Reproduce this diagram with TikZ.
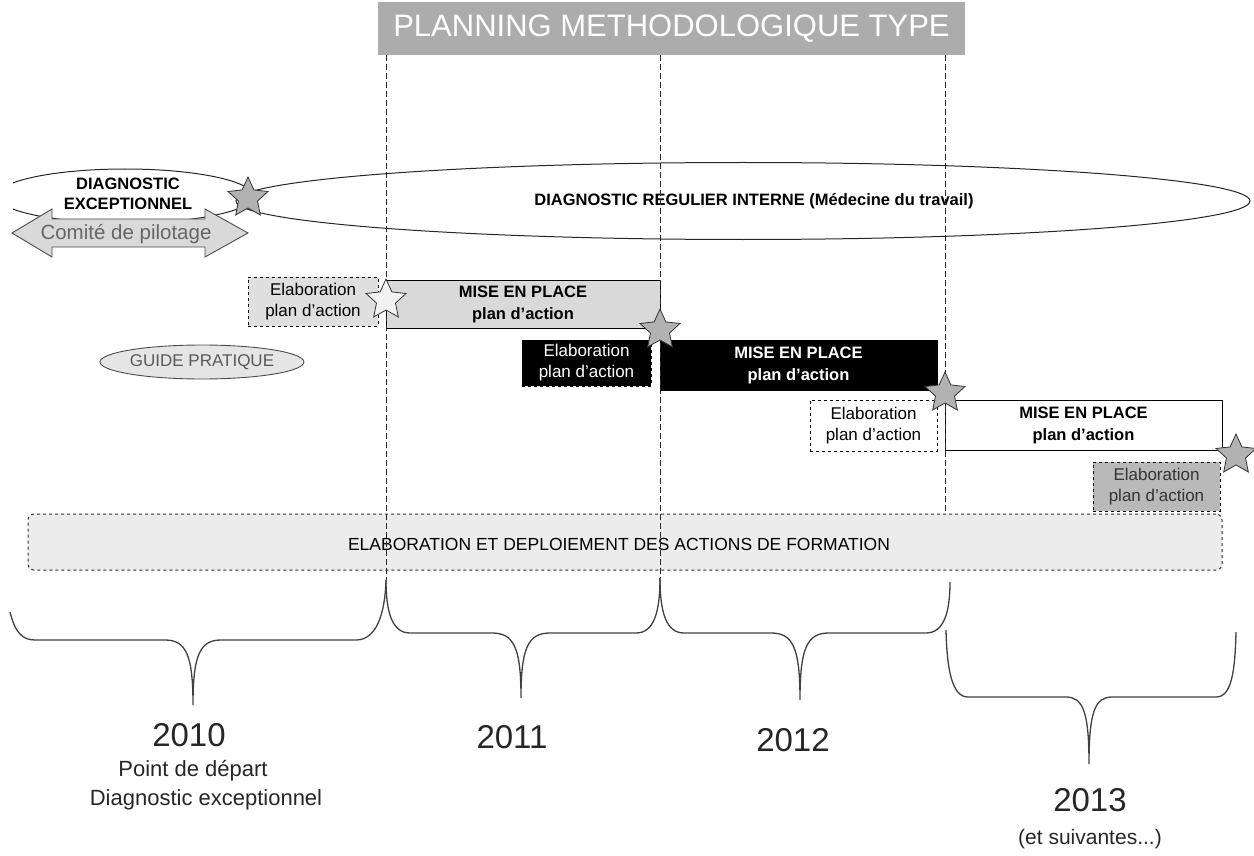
\documentclass[tikz,border=0pt]{standalone}
\usepackage{fontspec}
\setmainfont{Liberation Sans}
\usetikzlibrary{shapes.geometric}
\begin{document}
\begin{tikzpicture}[x=1pt,y=-1pt,
  elab/.style={draw=black, dashed, line width=0.9pt, align=center, inner sep=0pt, font=\fontsize{17}{21}\selectfont},
  mise/.style={draw=black, line width=0.9pt, align=center, inner sep=0pt, font=\bfseries\fontsize{16.5}{22}\selectfont},
  starnode/.style={star, star points=5, star point ratio=2.1, minimum size=42pt, inner sep=0pt, draw=black!80, line width=0.8pt, fill=gray!60},
  vline/.style={draw=black!85, line width=1pt, dash pattern=on 6pt off 3pt},
  bracestyle/.style={draw=black!75, line width=1.3pt},
  year/.style={font=\fontsize{33}{36}\selectfont, text=black!85},
  sub/.style={font=\fontsize{22}{25}\selectfont, text=black!85}
]
\useasboundingbox (0,0) rectangle (1254,856);

% title
\node[fill=gray!65, minimum width=587pt, minimum height=53pt, inner sep=0pt, text=white, font=\fontsize{31}{34}\selectfont] (title) at (671.5,28.5) {PLANNING METHODOLOGIQUE TYPE};

% vertical dashed lines
\coordinate (v1t) at (386,55); \coordinate (v1b) at (386,580);
\coordinate (v2t) at (660,55); \coordinate (v2b) at (660,578);
\coordinate (v3t) at (945,55); \coordinate (v3b) at (945,514);

% formation box
\node[draw=black!80, dashed, line width=1pt, rounded corners=6pt, fill=gray!15, minimum width=1194pt, minimum height=56pt, inner sep=0pt] (form) at (625,542) {};
\node[font=\fontsize{17.5}{20}\selectfont] (formtxt) at (619,544) {ELABORATION ET DEPLOIEMENT DES ACTIONS DE FORMATION};

% small ellipse (clipped)
\begin{scope}
\clip (13,150) rectangle (300,260);
\node[ellipse, draw=black!85, line width=1pt, minimum width=256pt, minimum height=54pt, inner sep=0pt] (exc) at (125,196) {};
\end{scope}

% big ellipse
\node[ellipse, draw=black!85, line width=1pt, minimum width=1014pt, minimum height=77pt, inner sep=0pt] (reg) at (743,201) {};
\node[font=\bfseries\fontsize{16.5}{19}\selectfont] (regtxt) at (754,201) {DIAGNOSTIC REGULIER INTERNE (M\'edecine du travail)};

% double arrow
\path[draw=black!70, line width=0.9pt, fill=gray!30]
  (12,233) -- (52,209) -- (52,219) -- (205,219) -- (205,209) -- (248,233)
  -- (205,257) -- (205,247) -- (52,247) -- (52,257) -- cycle;
\node[font=\fontsize{20.5}{22}\selectfont, text=black!60] (comite) at (126,234) {Comit\'e de pilotage};

% diagnostic exceptionnel label
\node[fill=white, align=center, inner sep=2pt, font=\bfseries\fontsize{16.5}{20}\selectfont] (exctxt) at (128,194) {DIAGNOSTIC\\EXCEPTIONNEL};

% star 1
\node[starnode] (s1) at (248,198) {};

% guide pratique
\node[ellipse, draw=black!70, line width=0.9pt, fill=gray!20, minimum width=168pt, minimum height=34pt, inner sep=0pt, font=\fontsize{17}{19}\selectfont, text=black!65] (guide) at (202,362) {GUIDE PRATIQUE};

% row 1
\node[elab, fill=gray!25, minimum width=130pt, minimum height=49pt] (e1) at (313,301.5) {Elaboration\\plan d'action};
\node[mise, fill=gray!30, minimum width=274pt, minimum height=48pt] (m1) at (523,304) {MISE EN PLACE\\plan d'action};

% row 2
\node[elab, fill=black, text=white, minimum width=129pt, minimum height=46pt] (e2) at (586.5,363) {Elaboration\\plan d'action};
\node[mise, fill=black, text=white, minimum width=277pt, minimum height=50pt] (m2) at (798.5,365) {MISE EN PLACE\\plan d'action};

% row 3
\node[elab, fill=white, minimum width=127pt, minimum height=51pt] (e3) at (873.5,425.5) {Elaboration\\plan d'action};
\node[mise, fill=white, minimum width=277pt, minimum height=50pt] (m3) at (1083.5,425) {MISE EN PLACE\\plan d'action};

% row 4
\node[elab, fill=gray!55, text=black!80, minimum width=127pt, minimum height=49pt] (e4) at (1156.5,486.5) {Elaboration\\plan d'action};

% vertical lines on top
\draw[vline] (v1t) -- (v1b);
\draw[vline] (v2t) -- (v2b);
\draw[vline] (v3t) -- (v3b);

% stars
\node[starnode, fill=gray!10] (s2) at (386,300) {};
\node[starnode] (s3) at (660,330) {};
\node[starnode] (s4) at (945,393) {};
\node[starnode] (s5) at (1236,455) {};

% braces
\draw[bracestyle] (10,612) .. controls (15,632) and (22,640) .. (35,640) -- (165,640)
  .. controls (186,640) and (193,655) .. (193,705)
  .. controls (193,655) and (200,640) .. (221,640) -- (356,640)
  .. controls (376,640) and (385,615) .. (v1b);
\draw[bracestyle] (v1b) .. controls (386,612) and (392,633) .. (410,633) -- (492,633)
  .. controls (514,633) and (521,648) .. (521,698)
  .. controls (521,648) and (528,633) .. (550,633) -- (636,633)
  .. controls (654,633) and (660,612) .. (v2b);
\draw[bracestyle] (v2b) .. controls (660,612) and (666,633) .. (684,633) -- (771,633)
  .. controls (793,633) and (800,648) .. (800,700)
  .. controls (800,648) and (807,633) .. (829,633) -- (926,633)
  .. controls (944,633) and (950,612) .. (950,582);
\draw[bracestyle] (946,630) .. controls (947,670) and (952,697) .. (968,697) -- (1066,697)
  .. controls (1083,697) and (1089,712) .. (1089,764)
  .. controls (1089,712) and (1095,697) .. (1112,697) -- (1216,697)
  .. controls (1232,697) and (1235,670) .. (1236,632);

% years
\node[year] (y10) at (189,735) {2010};
\node[sub] (y10a) at (193,771) {Point de d\'epart};
\node[sub] (y10b) at (206,800) {Diagnostic exceptionnel};
\node[year] (y11) at (512,737) {2011};
\node[year] (y12) at (793,740) {2012};
\node[year] (y13) at (1090,800) {2013};
\node[font=\fontsize{21}{23}\selectfont, text=black!85] (y13t) at (1090,839) {(et suivantes...)};
\end{tikzpicture}
\end{document}
